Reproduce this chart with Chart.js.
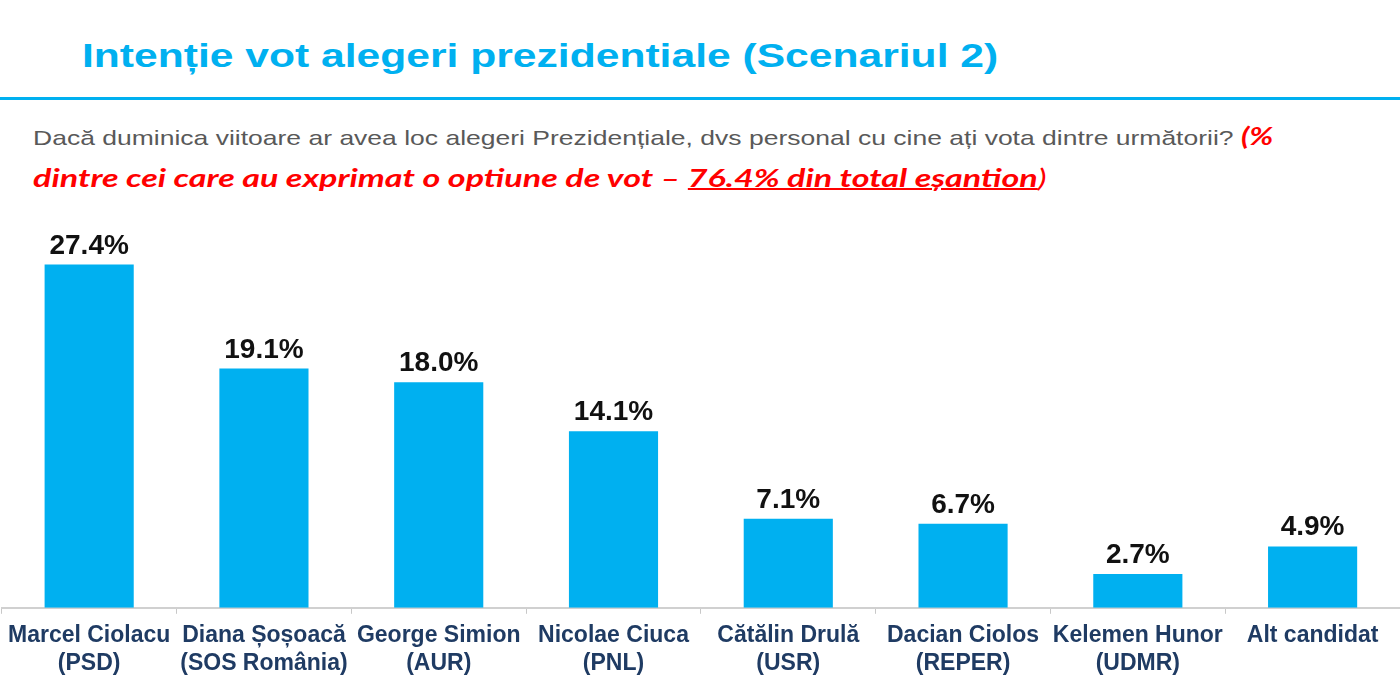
<!DOCTYPE html>
<html>
<head>
<meta charset="utf-8">
<script src="https://cdn.jsdelivr.net/npm/chart.js@4.4.1/dist/chart.umd.min.js"></script>
<style>
  body { margin: 0; background: #fff; width: 1400px; height: 700px; overflow: hidden; position: relative; }
  #title { position: absolute; left: 82px; top: 36px; font: bold 34px "Liberation Sans", Arial, sans-serif; color: #00b0f0; white-space: nowrap; transform: scaleX(1.253); transform-origin: left center; }
  #rule { position: absolute; left: 0; top: 97px; width: 1400px; height: 3px; background: #00b0f0; }
  .line { position: absolute; left: 33px; white-space: nowrap; line-height: 42px; transform-origin: left center; }
  #q1 { top: 119px; transform: scaleX(1.262); }
  #q2 { top: 161px; transform: scaleX(1.363); }
  .q { font: 21px "Liberation Sans", Arial, sans-serif; color: #595959; }
  .red { font: italic bold 25px Lato, "Open Sans", sans-serif; color: #ff0000; }
  .red u { text-decoration-thickness: 2px; }
  .red .plain { font-weight: normal; }
  #box { position: absolute; left: 0; top: 232px; width: 1400px; height: 468px; }
</style>
</head>
<body>
<div id="title">Intenție vot alegeri prezidentiale (Scenariul 2)</div>
<div id="rule"></div>
<div class="line" id="q1"><span class="q">Dacă duminica viitoare ar avea loc alegeri Prezidențiale, dvs personal cu cine ați vota dintre următorii? </span><span class="red">(%</span></div>
<div class="line" id="q2"><span class="red">dintre cei care au exprimat o optiune de vot – <u>76.4% din total eșantion</u><span class="plain">)</span></span></div>
<div id="box"><canvas id="chart"></canvas></div>
<script>
// data
const candidates = [
  ["Marcel Ciolacu", "(PSD)"],
  ["Diana Șoșoacă", "(SOS România)"],
  ["George Simion", "(AUR)"],
  ["Nicolae Ciuca", "(PNL)"],
  ["Cătălin Drulă", "(USR)"],
  ["Dacian Ciolos", "(REPER)"],
  ["Kelemen Hunor", "(UDMR)"],
  "Alt candidat"
];
const shares = [27.4, 19.1, 18.0, 14.1, 7.1, 6.7, 2.7, 4.9];

// value labels above the bars
const barLabels = {
  id: "barLabels",
  afterDatasetsDraw(chart) {
    const ctx = chart.ctx;
    const meta = chart.getDatasetMeta(0);
    ctx.save();
    ctx.font = "bold 28px 'Liberation Sans', Arial, sans-serif";
    ctx.fillStyle = "#111";
    ctx.textAlign = "center";
    ctx.textBaseline = "alphabetic";
    meta.data.forEach((bar, i) => {
      ctx.fillText(shares[i].toFixed(1) + "%", bar.x, bar.y - 11);
    });
    ctx.restore();
  }
};

new Chart(document.getElementById("chart"), {
  type: "bar",
  data: {
    labels: candidates,
    datasets: [{
      data: shares,
      backgroundColor: "#00b0f0",
      barPercentage: 0.51,
      categoryPercentage: 1.0
    }]
  },
  options: {
    responsive: true,
    maintainAspectRatio: false,
    animation: false,
    layout: { padding: { top: 0, left: 0, right: 0, bottom: 15 } },
    plugins: { legend: { display: false }, tooltip: { enabled: false } },
    scales: {
      x: {
        grid: { display: true, drawOnChartArea: false, drawTicks: true, tickLength: 6, color: "#c8c8c8", offset: true },
        border: { display: true, color: "#d0d0d0", width: 2 },
        ticks: {
          color: "#1f3b63",
          padding: 8,
          maxRotation: 0,
          autoSkip: false,
          font: { family: "'Liberation Sans', Arial, sans-serif", weight: "bold", size: 23, lineHeight: 1.2 }
        }
      },
      y: { display: false, min: 0, max: 30 }
    }
  },
  plugins: [barLabels]
});
</script>
</body>
</html>
